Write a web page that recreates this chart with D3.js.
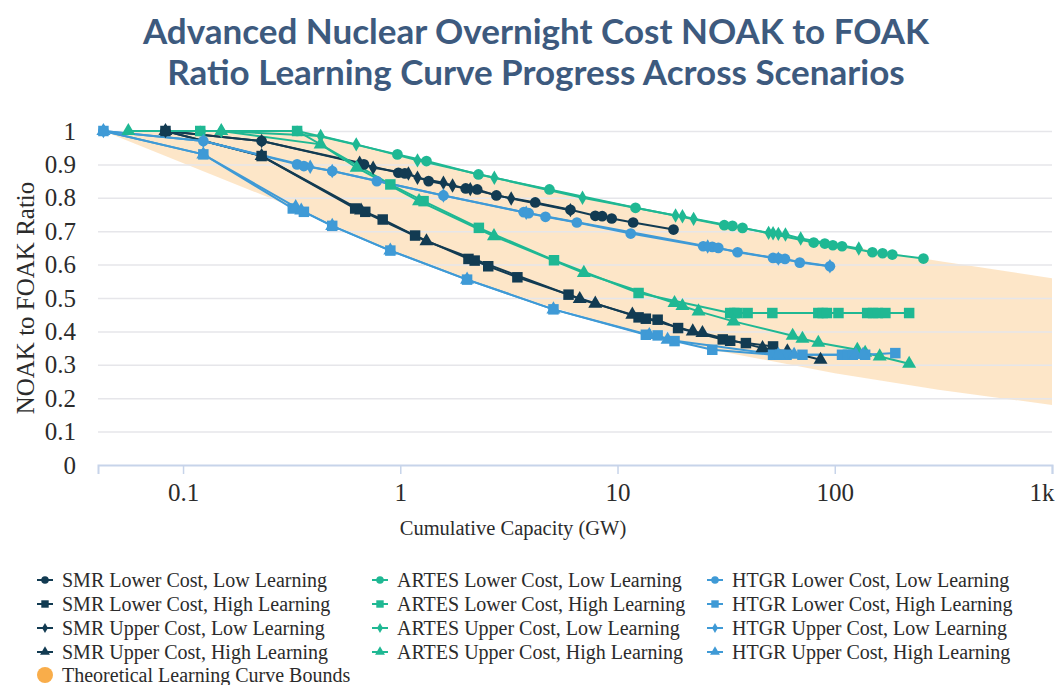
<!DOCTYPE html>
<html>
<head>
<meta charset="utf-8">
<script src="https://cdn.jsdelivr.net/npm/d3@7"></script>
<style>
  body { margin: 0; background: #fff; }
  svg text { font-family: "Liberation Serif", "Times New Roman", serif; fill: #2b2b2b; }
  .title { font-family: "Lato", sans-serif !important; font-weight: 700; fill: #3d5a7e !important; }
  .grid line { stroke: #e6e6ea; stroke-width: 1.5; }
  .grid .domain { display: none; }
</style>
</head>
<body>
<svg id="chart" width="1056" height="685"></svg>
<script>
// x ticks (cumulative capacity, GW) and y ticks (ratio)
const capTicks = [0.1, 1, 10, 100, 1000];
const capTickLabels = ["0.1", "1", "10", "100", "1k"];
const ratioTicks = [0, 0.1, 0.2, 0.3, 0.4, 0.5, 0.6, 0.7, 0.8, 0.9, 1];

// theoretical learning curve bounds [GW, ratio]
const boundUpper = [[0.043, 1], [0.36, 1], [1, 0.928], [3, 0.856], [10, 0.784], [30, 0.723], [100, 0.662], [300, 0.611], [1000, 0.559]];
const boundLower = [[0.043, 1], [0.34, 0.765], [1, 0.63], [3, 0.515], [10, 0.415], [30, 0.34], [100, 0.275], [300, 0.225], [1000, 0.18]];

// SMR
const smrLowerLow = [[0.083, 1], [0.23, 0.97], [0.68, 0.9], [0.98, 0.875], [1.05, 0.873], [1.35, 0.85], [2.0, 0.828], [2.26, 0.825], [2.77, 0.807], [4.18, 0.786], [6.07, 0.764], [7.9, 0.746], [8.5, 0.745], [9.4, 0.738], [11.8, 0.726], [18.1, 0.705]];
const smrLowerHigh = [[0.083, 1], [0.23, 0.925], [0.62, 0.768], [0.69, 0.758], [0.83, 0.735], [1.17, 0.687], [2.06, 0.617], [2.2, 0.612], [2.54, 0.595], [3.46, 0.562], [5.95, 0.51], [12.5, 0.442], [13.5, 0.438], [15.3, 0.435], [19, 0.41], [30.5, 0.376], [33, 0.372], [39, 0.365], [52, 0.355]];
const smrUpperLow = [[0.083, 1], [0.23, 0.97], [0.65, 0.905], [0.75, 0.89], [1.09, 0.873], [1.2, 0.86], [1.58, 0.845], [1.74, 0.837], [2.1, 0.826], [3.24, 0.798], [6.07, 0.763]];
const smrUpperHigh = [[0.083, 1], [0.23, 0.925], [0.66, 0.762], [1.32, 0.67], [6.7, 0.497], [7.9, 0.483], [11.7, 0.45], [22.2, 0.4], [24.6, 0.395], [46.5, 0.35], [60.5, 0.34], [86, 0.315]];

// ARTES
const artesLowerLow = [[0.12, 1], [0.335, 1], [0.97, 0.93], [1.32, 0.91], [2.29, 0.87], [4.86, 0.825], [12.1, 0.77], [31, 0.718], [33.8, 0.716], [37.6, 0.71], [80, 0.666], [90, 0.663], [98, 0.658], [108, 0.655], [149, 0.637], [166, 0.634], [184, 0.63], [256, 0.618]];
const artesLowerHigh = [[0.12, 1], [0.335, 1], [0.9, 0.84], [1.28, 0.79], [2.3, 0.71], [5.1, 0.613], [12.5, 0.515], [33, 0.455], [34.5, 0.455], [35.6, 0.455], [39.7, 0.455], [51.6, 0.455], [84, 0.455], [88, 0.455], [92, 0.455], [104, 0.455], [141, 0.455], [150, 0.455], [158, 0.455], [171, 0.455], [220, 0.455]];
const artesUpperLow = [[0.15, 1], [0.43, 0.985], [0.627, 0.96], [1.2, 0.912], [2.71, 0.86], [6.9, 0.8], [18.5, 0.747], [19.9, 0.745], [22.4, 0.737], [49.6, 0.695], [52, 0.694], [55, 0.692], [59.3, 0.69], [69.7, 0.678], [129, 0.648]];
const artesUpperHigh = [[0.056, 1], [0.15, 1], [0.43, 0.96], [0.63, 0.89], [1.22, 0.79], [2.7, 0.685], [7, 0.575], [18.3, 0.485], [19.9, 0.476], [23.6, 0.46], [34.2, 0.43], [64, 0.387], [71, 0.378], [84, 0.366], [127, 0.345], [138, 0.336], [161, 0.325], [220, 0.303]];

// HTGR
const htgrLowerLow = [[0.043, 1], [0.124, 0.97], [0.335, 0.9], [0.36, 0.895], [0.486, 0.88], [0.78, 0.85], [1.58, 0.807], [3.7, 0.757], [3.9, 0.754], [4.66, 0.743], [6.5, 0.726], [11.5, 0.693], [24.8, 0.655], [27.3, 0.653], [29.1, 0.65], [35.7, 0.637], [52, 0.62], [55, 0.619], [59, 0.617], [69, 0.606], [95, 0.595]];
const htgrLowerHigh = [[0.043, 1], [0.124, 0.93], [0.32, 0.768], [0.36, 0.758], [0.486, 0.716], [0.9, 0.642], [2.03, 0.555], [5.07, 0.466], [13.5, 0.39], [15.3, 0.388], [18.3, 0.371], [27.3, 0.345], [52, 0.33], [56, 0.33], [60, 0.33], [71, 0.33], [108, 0.33], [115, 0.33], [121, 0.33], [138, 0.33], [190, 0.335]];
const htgrUpperLow = [[0.043, 1], [0.124, 0.97], [0.385, 0.893], [0.486, 0.88], [1.58, 0.807], [3.8, 0.755], [26, 0.654], [55, 0.618], [95, 0.595]];
const htgrUpperHigh = [[0.043, 1], [0.124, 0.93], [0.33, 0.772], [0.35, 0.762], [0.486, 0.716], [0.9, 0.642], [2.03, 0.555], [5.07, 0.466], [14, 0.389], [17, 0.375], [55, 0.33], [65, 0.33], [125, 0.33], [135, 0.33]];

const navy = "#123b52", teal = "#1fb893", blue = "#3f9ad6", band = "#fde3c2", bandKey = "#f9ad4a";

const series = [
  { name: "SMR Lower Cost, Low Learning", data: smrLowerLow, color: navy, shape: d3.symbolCircle },
  { name: "SMR Lower Cost, High Learning", data: smrLowerHigh, color: navy, shape: d3.symbolSquare },
  { name: "SMR Upper Cost, Low Learning", data: smrUpperLow, color: navy, shape: d3.symbolDiamond },
  { name: "SMR Upper Cost, High Learning", data: smrUpperHigh, color: navy, shape: d3.symbolTriangle },
  { name: "ARTES Lower Cost, Low Learning", data: artesLowerLow, color: teal, shape: d3.symbolCircle },
  { name: "ARTES Lower Cost, High Learning", data: artesLowerHigh, color: teal, shape: d3.symbolSquare },
  { name: "ARTES Upper Cost, Low Learning", data: artesUpperLow, color: teal, shape: d3.symbolDiamond },
  { name: "ARTES Upper Cost, High Learning", data: artesUpperHigh, color: teal, shape: d3.symbolTriangle },
  { name: "HTGR Lower Cost, Low Learning", data: htgrLowerLow, color: blue, shape: d3.symbolCircle },
  { name: "HTGR Lower Cost, High Learning", data: htgrLowerHigh, color: blue, shape: d3.symbolSquare },
  { name: "HTGR Upper Cost, Low Learning", data: htgrUpperLow, color: blue, shape: d3.symbolDiamond },
  { name: "HTGR Upper Cost, High Learning", data: htgrUpperHigh, color: blue, shape: d3.symbolTriangle }
];

function symSize(shape) {
  if (shape === d3.symbolCircle) return 90;
  if (shape === d3.symbolSquare) return 110;
  if (shape === d3.symbolDiamond) return 60;
  return 85;
}

var svg = d3.select("#chart");

var x = d3.scaleLog().domain([0.0406, 1000]).range([98, 1052]);
var y = d3.scaleLinear().domain([0, 1]).range([465, 131]);

// title
svg.append("text").attr("class", "title").attr("x", 536).attr("y", 44)
  .attr("text-anchor", "middle").style("font-size", "35px")
  .text("Advanced Nuclear Overnight Cost NOAK to FOAK");
svg.append("text").attr("class", "title").attr("x", 536).attr("y", 85)
  .attr("text-anchor", "middle").style("font-size", "35px")
  .text("Ratio Learning Curve Progress Across Scenarios");

// bounds band
var line = d3.line().x(d => x(d[0])).y(d => y(d[1]));
svg.append("path")
  .attr("d", line(boundUpper.concat(boundLower.slice().reverse())) + "Z")
  .attr("fill", band)
  .attr("opacity", 0.9);

// gridlines
svg.append("g").attr("class", "grid")
  .attr("transform", "translate(98,0)")
  .call(d3.axisLeft(y).tickValues(ratioTicks.filter(d => d > 0)).tickSize(-954).tickFormat(""));

// y axis labels
var yAxis = svg.append("g").attr("transform", "translate(98,0)")
  .call(d3.axisLeft(y).tickValues(ratioTicks).tickSize(0).tickPadding(22).tickFormat(d3.format(".1~f")));
yAxis.select(".domain").remove();
yAxis.selectAll("text").style("font-size", "25px").style("font-family", "Liberation Serif").attr("fill", "#2b2b2b");

// x axis
var xAxis = svg.append("g").attr("transform", "translate(0,465)")
  .call(d3.axisBottom(x).tickValues(capTicks).tickSize(9).tickPadding(9)
    .tickFormat((d, i) => capTickLabels[i]));
xAxis.select(".domain").attr("stroke", "#c7d4ea").attr("stroke-width", 2);
xAxis.selectAll("line").attr("stroke", "#c7d4ea").attr("stroke-width", 1.5);
xAxis.selectAll("text").style("font-size", "25px").style("font-family", "Liberation Serif").attr("fill", "#2b2b2b");
xAxis.selectAll(".tick:last-of-type text").attr("text-anchor", "end").attr("x", 2);

// axis titles
svg.append("text").attr("x", 513).attr("y", 535).attr("text-anchor", "middle")
  .style("font-size", "20.5px").text("Cumulative Capacity (GW)");
svg.append("text").attr("transform", "translate(34,298) rotate(-90)").attr("text-anchor", "middle")
  .style("font-size", "25px").text("NOAK to FOAK Ratio");

// lines
var plot = svg.append("g");
series.forEach(function(s) {
  plot.append("path")
    .attr("d", line(s.data))
    .attr("fill", "none")
    .attr("stroke", s.color)
    .attr("stroke-width", 2);
});

// markers
series.forEach(function(s) {
  plot.selectAll(null)
    .data(s.data)
    .enter()
    .append("path")
    .attr("transform", d => "translate(" + x(d[0]) + "," + y(d[1]) + ")")
    .attr("d", d3.symbol().type(s.shape).size(symSize(s.shape)))
    .attr("fill", s.color);
});

// legend
var legendX = [45, 380, 715];
var legend = svg.append("g");
series.forEach(function(s, i) {
  var col = Math.floor(i / 4), row = i % 4;
  var g = legend.append("g").attr("transform", "translate(" + legendX[col] + "," + (580 + row * 24) + ")");
  g.append("line").attr("x1", -8).attr("x2", 8).attr("stroke", s.color).attr("stroke-width", 2);
  g.append("path").attr("d", d3.symbol().type(s.shape).size(symSize(s.shape) * 0.5)).attr("fill", s.color);
  g.append("text").attr("x", 17).attr("dy", "0.33em").style("font-size", "20px").text(s.name);
});
var gb = legend.append("g").attr("transform", "translate(45,675)");
gb.append("circle").attr("r", 8).attr("fill", bandKey);
gb.append("text").attr("x", 17).attr("dy", "0.33em").style("font-size", "20px").text("Theoretical Learning Curve Bounds");
</script>
</body>
</html>
